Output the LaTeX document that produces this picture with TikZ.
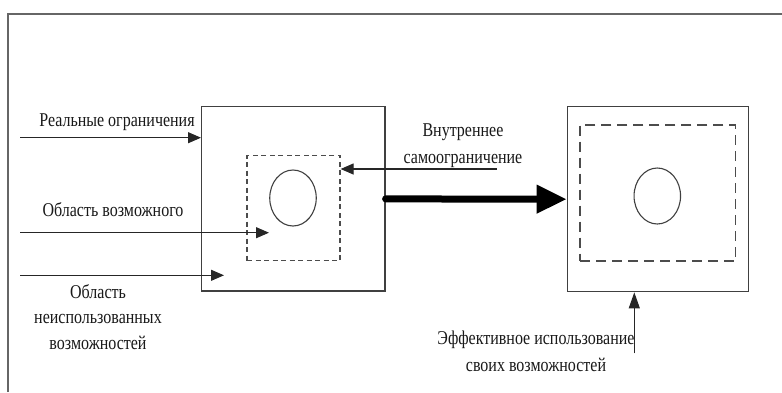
\documentclass[tikz,border=0pt]{standalone}
\usepackage{fontspec}
\usepackage{graphicx}
\setmainfont{Liberation Serif}
\usetikzlibrary{arrows.meta,shapes.geometric}
\newcommand{\tallt}[1]{\scalebox{1}[1.22]{#1}}
\begin{document}
\begin{tikzpicture}[x=1pt,y=-1pt,
  frame/.style={draw=black!60,line width=1.6pt},
  box/.style={draw=black!75,line width=1.3pt,rectangle,inner sep=0pt},
  dbox/.style={draw=black!70,line width=1.2pt,rectangle,inner sep=0pt,dash pattern=on 5pt off 3.5pt},
  dboxb/.style={draw=black!70,line width=1.2pt,rectangle,inner sep=0pt,dash pattern=on 10pt off 6pt},
  oval/.style={draw=black!75,line width=1.1pt,ellipse,inner sep=0pt,minimum width=46.5pt,minimum height=56pt},
  arr/.style={draw=black!85,line width=1.1pt,-{Triangle[length=13pt,width=11pt]}},
  bigarr/.style={draw=black,line width=7pt,line cap=round,-{Triangle[length=30pt,width=27pt]}},
  lbl/.style={font=\fontsize{16}{18}\selectfont,inner sep=0pt,align=center,text=black!90}
]
\useasboundingbox (0,0) rectangle (782,392);
\draw[frame] (8,392) -- (8,14) -- (782,14);
% boxes
\node[box,minimum width=183.3pt,minimum height=184.3pt] (b1) at (293.3,198.9) {};
\node[dbox,minimum width=93pt,minimum height=105pt] (d1) at (293.5,208.2) {};
\node[oval] (o1) at (293,198) {};
\node[box,minimum width=181.4pt,minimum height=185pt] (b2) at (658,199.2) {};
\node[dboxb,minimum width=155.7pt,minimum height=136pt] (d2) at (657.9,193) {};
\node[oval] (o2) at (657.3,196) {};
% left arrows
\coordinate (c1) at (20,137.7);
\draw[arr] (c1) -- (c1 -| b1.west);
\node[lbl] (t1) at (117,122.5) {\tallt{Реальные ограничения}};
\coordinate (c2) at (20,232.7);
\coordinate (e2) at (269,232.7);
\draw[arr] (c2) -- (e2);
\node[lbl] (t2) at (113,210) {\tallt{Область возможного}};
\coordinate (c3) at (20,275.3);
\coordinate (e3) at (224,275.3);
\draw[arr] (c3) -- (e3);
\node[lbl,font=\fontsize{16}{25.5}\selectfont] (t3) at (98,317) {\tallt{Область}\\\tallt{неиспользованных}\\\tallt{возможностей}};
% inner self-limitation
\coordinate (c4) at (497,169);
\draw[arr] (c4) -- (c4 -| d1.east);
\node[lbl,font=\fontsize{16}{27}\selectfont] (t4) at (463,146) {\tallt{Внутреннее}\\\tallt{самоограничение}};
% big arrow
\draw[bigarr] (b1.east) -- (b2.west);
% bottom
\coordinate (c5) at (634.3,353.3);
\draw[arr,-{Triangle[length=16pt,width=11pt]}] (c5) -- (c5 |- b2.south);
\node[lbl,font=\fontsize{16}{27}\selectfont] (t5) at (536,351) {\tallt{Эффективное использование}\\\tallt{своих возможностей}};
\end{tikzpicture}
\end{document}
